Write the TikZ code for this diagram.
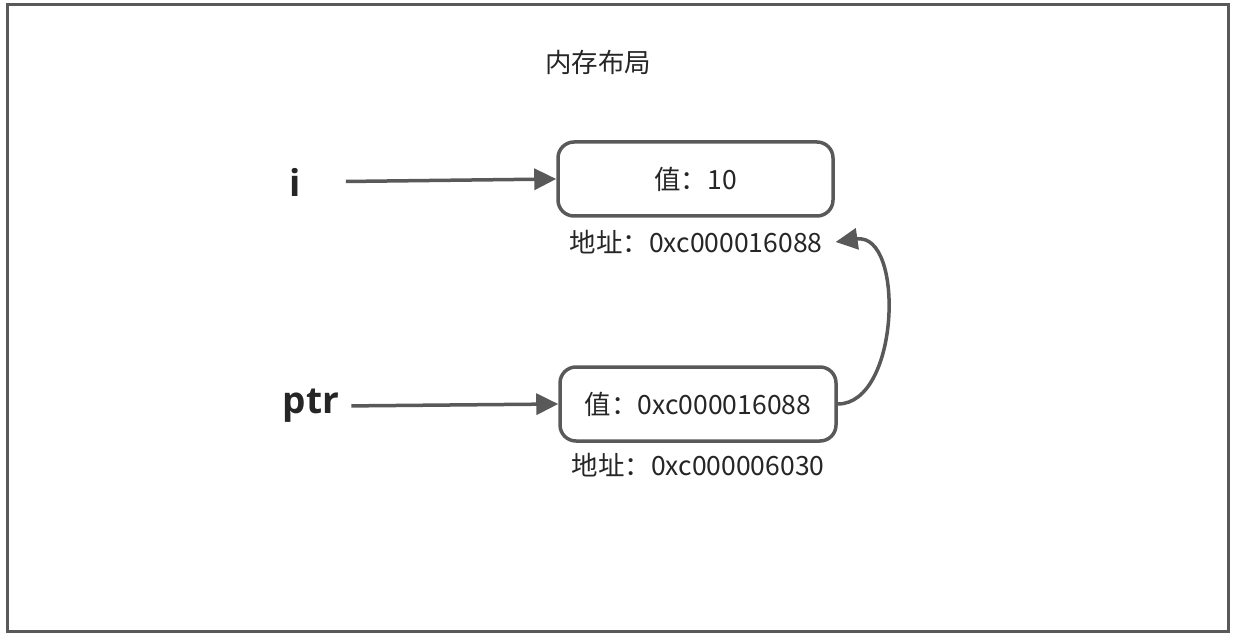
\documentclass[tikz,border=0pt]{standalone}
\usepackage{fontspec}
\setmainfont{Noto Sans CJK SC}
\newfontfamily\varfont{Open Sans}
\usepackage{xcolor}
\usetikzlibrary{arrows.meta,positioning}
\definecolor{linegray}{HTML}{595959}
\definecolor{textgray}{HTML}{262626}
\tikzset{
  memarr/.style={-{Triangle[length=22pt,width=21pt]}, line width=3.5pt, draw=linegray},
  membox/.style={draw=linegray, line width=3.5pt, rounded corners=16pt, align=center, inner sep=2pt},
  memtext/.style={font=\fontsize{26.5}{30}\selectfont, text=textgray},
}
\begin{document}
\begin{tikzpicture}[
  x=1pt, y=-1pt,
  varname/.style={font=\varfont\bfseries\fontsize{37}{40}\selectfont, text=textgray, inner sep=2pt},
  addr/.style={memtext, inner sep=1pt},
]
  \useasboundingbox (0,0) rectangle (1236,636);
  \draw[linegray, line width=3.5pt] (7.5,4.5) rectangle (1228.5,631.5);

  \node[memtext] (title) at (598,62) {内存布局};

  \node[membox, memtext, minimum width=275pt, minimum height=74pt] (val1) at (695.5,179) {值：10};
  \node[addr] (addr1) at (696,242) {地址：0xc000016088};
  \node[membox, memtext, minimum width=276pt, minimum height=74pt] (val2) at (698,404) {值：0xc000016088};
  \node[addr] (addr2) at (698,465) {地址：0xc000006030};

  \node[varname] (vi) at (295,182) {i};
  \node[varname] (vptr) at (311,406) {ptr};

  \draw[memarr, shorten <=43pt] (vi.east) -- (val1.west);
  \draw[memarr, shorten <=10pt] (vptr.east) -- (val2.west);
  \draw[memarr] (val2.east) .. controls (900,404) and (905,232) .. ([xshift=12pt]addr1.east);
\end{tikzpicture}
\end{document}
